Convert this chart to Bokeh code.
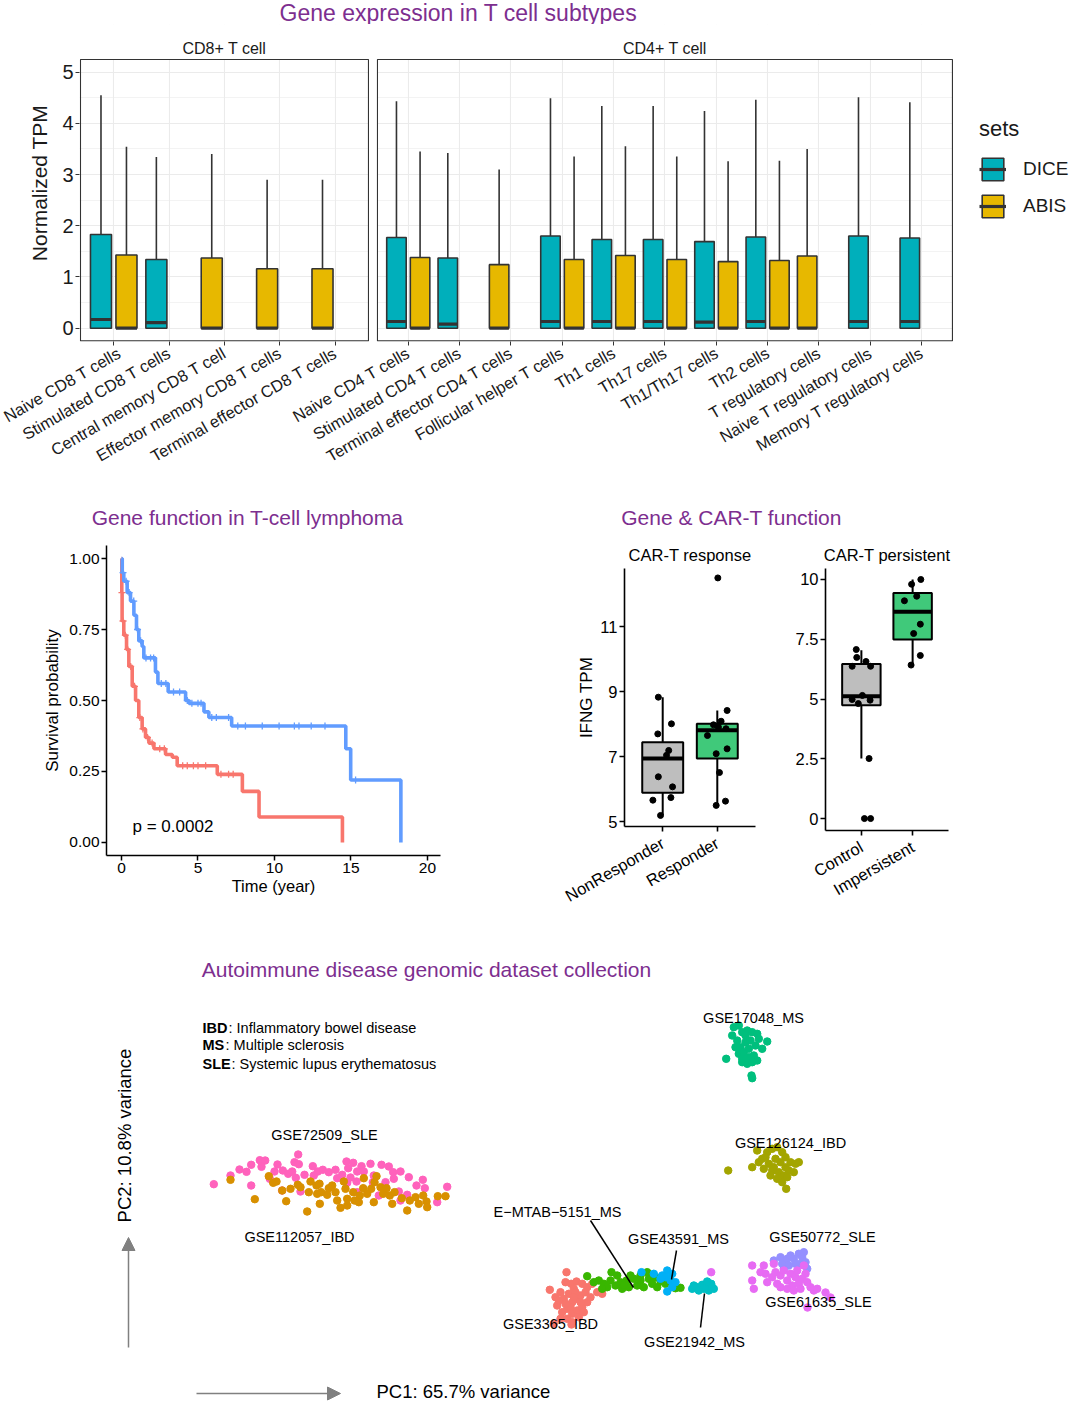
import numpy as np
from bokeh.plotting import figure
from bokeh.models import (FactorRange, Range1d, ColumnDataSource, Legend, LegendItem,
                          Arrow, NormalHead, FixedTicker, NumeralTickFormatter)
from bokeh.layouts import row
from bokeh.core.properties import value
from bokeh.embed import file_html
from bokeh.resources import INLINE

FONT = "Liberation Sans"
PURPLE = "#7D2E8F"
INK = "#1A1A1A"
DICE_COLOR = "#00AFBB"
ABIS_COLOR = "#E7B800"

# ------------------------------------------------------------------ data: top panel
cd8_cells = ["Naive CD8 T cells", "Stimulated CD8 T cells", "Central memory CD8 T cell",
             "Effector memory CD8 T cells", "Terminal effector CD8 T cells"]
cd4_cells = ["Naive CD4 T cells", "Stimulated CD4 T cells", "Terminal effector CD4 T cells",
             "Follicular helper T cells", "Th1 cells", "Th17 cells", "Th1/Th17 cells", "Th2 cells",
             "T regulatory cells", "Naive T regulatory cells", "Memory T regulatory cells"]

dice_cells = ["Naive CD8 T cells", "Stimulated CD8 T cells", "Naive CD4 T cells", "Stimulated CD4 T cells",
              "Follicular helper T cells", "Th1 cells", "Th17 cells", "Th1/Th17 cells", "Th2 cells",
              "Naive T regulatory cells", "Memory T regulatory cells"]
dice_q1 = [0.0, 0.0, 0.0, 0.0, 0.0, 0.0, 0.0, 0.0, 0.0, 0.0, 0.0]
dice_median = [0.17, 0.11, 0.13, 0.08, 0.13, 0.13, 0.13, 0.12, 0.13, 0.13, 0.13]
dice_q3 = [1.83, 1.34, 1.77, 1.37, 1.80, 1.73, 1.73, 1.69, 1.78, 1.80, 1.76]
dice_upper = [4.55, 3.34, 4.43, 3.42, 4.49, 4.34, 4.34, 4.24, 4.46, 4.51, 4.41]

abis_cells = ["Naive CD8 T cells", "Central memory CD8 T cell", "Effector memory CD8 T cells",
              "Terminal effector CD8 T cells", "Naive CD4 T cells", "Terminal effector CD4 T cells",
              "Follicular helper T cells", "Th1 cells", "Th17 cells", "Th1/Th17 cells", "Th2 cells",
              "T regulatory cells"]
abis_q1 = [0.0, 0.0, 0.0, 0.0, 0.0, 0.0, 0.0, 0.0, 0.0, 0.0, 0.0, 0.0]
abis_median = [0.0, 0.0, 0.0, 0.0, 0.0, 0.0, 0.0, 0.0, 0.0, 0.0, 0.0, 0.0]
abis_q3 = [1.43, 1.37, 1.16, 1.16, 1.38, 1.24, 1.34, 1.42, 1.34, 1.30, 1.32, 1.41]
abis_upper = [3.54, 3.40, 2.90, 2.90, 3.45, 3.10, 3.35, 3.55, 3.35, 3.26, 3.27, 3.50]

# ------------------------------------------------------------------ data: survival
times_b = [0, 0.05, 0.15, 0.37, 0.59, 0.81, 0.98, 1.13, 1.35, 1.46, 2.22, 2.38, 3.05, 4.19, 4.41,
           5.39, 5.71, 7.20, 14.66, 14.98, 18.26]
surv_b = [1.0, 0.95, 0.92, 0.88, 0.85, 0.80, 0.75, 0.71, 0.69, 0.65, 0.60, 0.56, 0.53, 0.50, 0.49,
          0.46, 0.44, 0.41, 0.33, 0.22, 0.0]
times_r = [0, 0.02, 0.04, 0.15, 0.33, 0.48, 0.70, 0.92, 1.13, 1.35, 1.57, 1.79, 2.12, 2.88, 3.32,
           3.64, 6.26, 7.90, 8.99, 14.44]
surv_r = [1.0, 0.88, 0.78, 0.73, 0.68, 0.62, 0.55, 0.50, 0.44, 0.40, 0.37, 0.35, 0.33, 0.31, 0.30,
          0.27, 0.24, 0.18, 0.09, 0.0]
cens_b = [0.1, 0.3, 0.5, 0.8, 1.05, 1.25, 1.6, 1.9, 2.1, 2.6, 2.9, 3.4, 3.8, 4.3, 4.6, 5.0, 5.2,
          5.9, 6.2, 7.0, 7.6, 8.1, 9.2, 10.3, 11.3, 11.6, 12.4, 13.3, 15.3]
cens_r = [0.03, 0.1, 0.25, 0.4, 0.6, 0.85, 1.2, 1.4, 1.7, 2.0, 2.5, 2.8, 4.0, 4.3, 4.7, 5.0, 5.5,
          6.5, 7.0, 7.3]

# ------------------------------------------------------------------ data: CAR-T
resp_groups = ["NonResponder", "Responder"]
resp_lower = [5.20, 5.51]
resp_q1 = [5.89, 6.94]
resp_median = [6.94, 7.81]
resp_q3 = [7.44, 8.01]
resp_upper = [8.83, 8.42]
nr_values = [8.83, 7.70, 8.01, 7.19, 7.04, 6.38, 6.07, 5.66, 5.74, 5.19]
nr_jitter = [-0.08, -0.09, 0.16, 0.11, 0.07, -0.08, 0.18, -0.18, 0.15, -0.04]
r_values = [12.5, 8.42, 8.09, 7.98, 7.91, 7.86, 7.65, 7.24, 7.09, 6.51, 5.50, 5.63]
r_jitter = [0.01, 0.18, 0.07, -0.07, 0.02, 0.16, -0.18, 0.18, -0.02, 0.04, -0.02, 0.15]

pers_groups = ["Control", "Impersistent"]
pers_lower = [2.51, 6.42]
pers_q1 = [4.74, 7.49]
pers_median = [5.12, 8.65]
pers_q3 = [6.46, 9.44]
pers_upper = [7.04, 10.0]
ctrl_values = [7.07, 6.74, 6.57, 6.37, 6.37, 5.15, 4.98, 4.81, 4.95, 2.51, 0.0, 0.0]
ctrl_jitter = [-0.10, -0.09, 0.09, -0.18, 0.18, 0.02, -0.18, -0.06, 0.17, 0.15, 0.06, 0.18]
imp_values = [10.0, 9.80, 9.30, 9.11, 8.13, 7.74, 6.82, 6.42]
imp_jitter = [0.16, -0.02, 0.08, -0.16, 0.15, 0.02, 0.15, -0.03]

# ------------------------------------------------------------------ data: PCA
gse72509_pc1 = [21.33, 23.0, 23.9, 24.6, 25.07, 25.93, 26.47, 26.1, 26.93, 27.7, 27.4, 28.23, 28.77, 29.17,
                29.4, 29.77, 29.83, 29.53, 30.4, 31.23, 31.73, 32.23, 32.83, 33.5, 34.6, 35.27, 34.77,
                34.17, 35.0, 36.1, 37.0, 36.33, 37.33, 38.1, 38.83, 39.27, 40.0, 40.83, 39.33, 38.5,
                37.23, 35.6, 34.67, 33.67, 25.07, 30.0, 28.17, 39.83, 40.67, 41.6, 42.23, 42.43, 43.67,
                44.67, 40.0, 35.67, 37.83, 31.33, 35.67]
gse72509_pc2 = [21.63, 22.5, 23.1, 22.87, 23.57, 24.03, 24.0, 23.37, 22.17, 23.6, 22.9, 23.0, 22.67, 22.9,
                23.83, 24.6, 23.63, 22.27, 22.57, 23.43, 22.9, 23.07, 22.83, 23.07, 23.9, 23.77, 23.23,
                22.57, 22.3, 23.43, 23.67, 22.9, 22.5, 23.57, 23.4, 22.83, 22.9, 22.33, 22.17, 21.83,
                21.83, 21.9, 21.77, 22.23, 21.5, 20.9, 21.0, 20.9, 20.57, 21.5, 22.07, 21.23, 19.83,
                21.37, 20.0, 20.83, 20.5, 22.5, 22.9]
gse112057_pc1 = [23.0, 25.43, 26.83, 27.27, 27.6, 28.17, 28.57, 29.0, 29.73, 30.67, 30.83, 31.0, 31.6,
                 31.9, 31.93, 32.07, 32.67, 32.83, 33.17, 33.5, 33.67, 34.0, 34.33, 34.5, 34.67, 35.27,
                 35.4, 35.93, 36.27, 36.33, 36.67, 37.07, 37.4, 37.6, 38.0, 38.27, 38.6, 38.93, 39.17,
                 39.4, 40.13, 40.67, 40.93, 41.5, 41.83, 42.27, 42.6, 42.67, 43.73, 44.5, 35.83, 37.33,
                 34.67, 30.0, 31.67]
gse112057_pc2 = [22.07, 20.13, 22.43, 21.77, 21.9, 21.0, 19.93, 21.17, 21.57, 18.9, 20.83, 21.9, 21.5,
                 21.67, 19.67, 20.83, 20.57, 21.23, 21.5, 20.83, 20.0, 19.27, 21.9, 21.17, 20.17, 20.83,
                 20.0, 20.5, 21.23, 22.23, 20.67, 21.17, 21.83, 22.43, 21.33, 20.67, 21.23, 20.5, 19.67,
                 20.83, 20.23, 19.0, 20.0, 20.33, 19.67, 20.5, 19.9, 19.33, 20.43, 20.43, 19.83, 19.83,
                 19.5, 21.33, 20.67]
gse17048_pc1 = [73.33, 73.83, 73.17, 73.67, 74.17, 74.67, 75.17, 75.67, 74.0, 74.5, 75.0, 75.5, 75.83,
                76.67, 73.83, 74.33, 74.83, 75.33, 75.67, 74.17, 74.67, 75.17, 72.57, 75.1, 75.17, 74.5,
                76.17, 73.5, 74.83, 74.17]
gse17048_pc2 = [37.33, 37.5, 36.5, 36.0, 36.83, 37.0, 36.83, 36.67, 35.33, 35.83, 36.0, 35.5, 36.17,
                35.9, 34.67, 34.83, 34.33, 34.5, 34.0, 33.83, 33.67, 33.83, 34.17, 32.5, 32.23, 36.5,
                35.17, 35.33, 35.17, 34.17]
gse126124_pc1 = [72.77, 75.17, 75.67, 76.17, 76.67, 77.17, 77.67, 78.17, 78.5, 79.0, 79.5, 79.83, 78.0,
                 77.5, 76.83, 76.33, 77.17, 77.83, 78.33, 78.83, 79.33, 77.67, 78.17, 78.67, 78.57, 77.0,
                 75.83, 76.5, 77.33, 78.5]
gse126124_pc2 = [23.0, 23.33, 25.0, 24.17, 24.83, 25.17, 25.33, 24.83, 24.33, 23.83, 23.67, 23.83, 23.83,
                 24.17, 23.67, 23.17, 23.0, 22.83, 22.5, 23.0, 22.83, 22.17, 21.83, 22.33, 21.17, 22.5,
                 23.83, 24.33, 23.33, 23.33]
gse3365_pc1 = [56.6, 54.93, 55.5, 56.0, 56.5, 57.07, 57.6, 58.17, 58.67, 59.17, 59.67, 60.17, 55.67, 56.17,
               56.67, 57.17, 57.67, 58.0, 58.5, 57.33, 56.83, 56.33, 55.83, 57.17, 57.67, 58.17, 58.67,
               59.0, 56.67, 57.17, 56.0, 57.83, 58.33, 57.5, 57.0, 56.5, 55.33, 57.33, 58.0, 57.1]
gse3365_pc2 = [12.83, 11.07, 10.33, 10.83, 11.83, 11.67, 11.9, 11.67, 11.33, 11.67, 10.83, 10.67, 9.5, 8.83,
               9.17, 9.83, 10.17, 10.5, 10.83, 11.17, 10.67, 10.17, 10.0, 8.67, 9.0, 9.33, 9.83, 10.33,
               8.17, 7.83, 8.17, 8.33, 8.83, 10.83, 9.33, 9.67, 7.67, 10.33, 9.83, 7.6]
emtab_pc1 = [58.67, 59.33, 59.83, 60.33, 61.1, 61.0, 61.5, 62.0, 62.17, 62.6, 62.83, 63.33, 63.67, 64.0,
             64.33, 64.67, 64.83, 65.17, 65.5, 65.67, 66.0, 66.5, 67.0, 67.5, 68.0, 61.67, 63.0, 60.67,
             60.17, 62.33, 64.0]
emtab_pc2 = [12.43, 11.83, 12.0, 11.67, 12.83, 12.0, 11.5, 11.83, 11.17, 12.0, 11.33, 12.17, 11.5, 12.0,
             11.33, 12.83, 12.17, 11.67, 12.33, 11.33, 11.9, 11.67, 12.0, 11.23, 11.27, 12.5, 12.5, 11.33,
             11.17, 11.57, 12.5]
gse43591_pc1 = [64.1, 65.33, 66.67, 67.17, 66.5, 67.0, 67.5, 66.0, 66.67, 67.17, 66.17]
gse43591_pc2 = [12.83, 12.67, 13.0, 12.67, 12.33, 12.0, 11.83, 12.17, 10.9, 11.33, 12.5]
gse21942_pc1 = [69.17, 69.67, 70.17, 70.67, 71.07, 71.33, 70.83, 70.33, 69.83, 69.33, 70.67, 71.17]
gse21942_pc2 = [11.17, 11.33, 11.57, 11.5, 11.67, 11.17, 11.0, 11.17, 11.0, 11.5, 11.9, 11.33]
gse50772_pc1 = [77.33, 78.0, 78.17, 78.67, 79.0, 79.33, 79.83, 80.17, 80.33, 80.0, 80.5, 79.5, 78.83,
                80.67, 78.33]
gse50772_pc2 = [14.0, 14.33, 13.67, 14.17, 14.5, 14.17, 14.67, 14.33, 14.83, 13.67, 13.83, 13.67, 13.5,
                13.17, 13.17]
gse61635_pc1 = [75.17, 76.33, 75.17, 75.33, 76.5, 76.67, 77.17, 77.5, 77.67, 78.0, 78.33, 78.67, 79.0,
                79.17, 79.5, 79.67, 79.83, 80.17, 80.5, 80.67, 81.0, 81.33, 81.67, 78.0, 78.67, 79.33, 80.0,
                80.33, 77.33, 76.0, 71.07, 80.7, 83.0, 82.5]
gse61635_pc2 = [13.5, 13.5, 12.0, 11.17, 12.67, 11.83, 12.33, 12.83, 11.67, 12.5, 13.0, 12.0, 12.67, 11.5,
                12.33, 13.0, 11.67, 12.17, 12.67, 11.83, 11.33, 11.0, 11.17, 11.33, 11.17, 11.0, 11.17,
                13.5, 13.67, 12.83, 12.83, 9.3, 10.3, 10.8]

dataset_names = ["GSE72509_SLE", "GSE112057_IBD", "GSE17048_MS", "GSE126124_IBD", "GSE3365_IBD",
                 "E-MTAB-5151_MS", "GSE43591_MS", "GSE21942_MS", "GSE50772_SLE", "GSE61635_SLE"]
dataset_colors = ["#FF62BC", "#D89000", "#00BF7D", "#A3A500", "#F8766D",
                  "#39B600", "#00B0F6", "#00BFC4", "#9590FF", "#E76BF3"]
dataset_pc1 = [gse72509_pc1, gse112057_pc1, gse17048_pc1, gse126124_pc1, gse3365_pc1,
               emtab_pc1, gse43591_pc1, gse21942_pc1, gse50772_pc1, gse61635_pc1]
dataset_pc2 = [gse72509_pc2, gse112057_pc2, gse17048_pc2, gse126124_pc2, gse3365_pc2,
               emtab_pc2, gse43591_pc2, gse21942_pc2, gse50772_pc2, gse61635_pc2]

label_text = ["GSE17048_MS", "GSE126124_IBD", "GSE72509_SLE", "GSE112057_IBD", "E\u2212MTAB\u22125151_MS",
              "GSE43591_MS", "GSE50772_SLE", "GSE61635_SLE", "GSE3365_IBD", "GSE21942_MS"]
label_pc1 = [75.3, 79.0, 32.4, 29.9, 55.7, 67.8, 82.2, 81.8, 55.0, 69.4]
label_pc2 = [38.3, 25.8, 26.6, 16.4, 18.9, 16.2, 16.4, 9.9, 7.7, 5.9]
link_pc1_start = [59.0, 67.6, 70.0]
link_pc2_start = [18.0, 15.0, 7.3]
link_pc1_end = [63.3, 67.1, 70.4]
link_pc2_end = [11.3, 12.1, 10.7]

W = 1074


def base_fig(**kw):
    p = figure(output_backend="svg", toolbar_location=None, **kw)
    try:
        p.frame_align = False
    except Exception:
        pass
    return p


def style_axis(ax, size, color=INK, line=None, lw=1.0, standoff=3):
    ax.major_label_text_font = FONT
    ax.major_label_text_font_size = size
    ax.major_label_text_color = color
    ax.major_label_standoff = standoff
    ax.axis_label_text_font = FONT
    ax.axis_label_text_font_style = "normal"
    ax.axis_label_text_color = color
    ax.minor_tick_line_color = None
    ax.major_tick_in = 0
    ax.major_tick_out = 4
    ax.major_tick_line_color = "#333333" if line is None else line
    ax.major_tick_line_width = lw
    if line is None:
        ax.axis_line_color = None
    else:
        ax.axis_line_color = line
        ax.axis_line_width = lw


# ------------------------------------------------------------------ title row 1
t1 = base_fig(width=W, height=24, x_range=Range1d(0, W), y_range=Range1d(0, 24),
              x_axis_type=None, y_axis_type=None, title=None, min_border=0)
t1.outline_line_color = None
t1.text(x=[458], y=[12], text=["Gene expression in T cell subtypes"], text_align="center",
        text_baseline="middle", text_font=value(FONT), text_font_size="23px", text_color=PURPLE)

# ------------------------------------------------------------------ top boxplots
P8, P4 = "CD8+ T cell", "CD4+ T cell"
S4 = 0.927                      # relative width of one CD4 category (free facet space)
GAP = 0.1625                    # blank space between the two facets
cell_labels = cd8_cells + cd4_cells
cell_pos = {c: float(i) for i, c in enumerate(cd8_cells)}
cd4_first = 4 + 0.6 + GAP + 0.6 * S4
cell_pos.update({c: cd4_first + j * S4 for j, c in enumerate(cd4_cells)})
cell_scale = {c: (1.0 if c in cd8_cells else S4) for c in cell_labels}
cd8_lo, cd8_hi = cell_pos[cd8_cells[0]] - 0.6, cell_pos[cd8_cells[-1]] + 0.6
cd4_lo, cd4_hi = cell_pos[cd4_cells[0]] - 0.6 * S4, cell_pos[cd4_cells[-1]] + 0.6 * S4

top = base_fig(width=W, height=466, x_range=Range1d(-0.618, 17.349), y_range=Range1d(-0.26, 5.929),
               title=None, min_border_left=79, min_border_right=0, min_border_top=0, min_border_bottom=149)
top.outline_line_color = None
top.xaxis.ticker = FixedTicker(ticks=[cell_pos[c] for c in cell_labels])
top.xaxis.major_label_overrides = {cell_pos[c]: c for c in cell_labels}
top.xgrid.grid_line_color = "#EBEBEB"
top.xgrid.grid_line_width = 1.1
top.yaxis.ticker = FixedTicker(ticks=[0, 1, 2, 3, 4, 5], minor_ticks=[0.5, 1.5, 2.5, 3.5, 4.5])
top.ygrid.grid_line_color = "#EBEBEB"
top.ygrid.grid_line_width = 1.1
top.ygrid.minor_grid_line_color = "#EBEBEB"
top.ygrid.minor_grid_line_width = 0.6
style_axis(top.yaxis[0], "20px", standoff=2)
style_axis(top.xaxis[0], "16.5px", standoff=6)
top.yaxis.axis_label = "Normalized TPM"
top.yaxis.axis_label_text_font_size = "21px"
top.yaxis.axis_label_standoff = 8
top.xaxis.major_label_orientation = np.pi / 6

both = set(dice_cells) & set(abis_cells)
BW = 0.38


def dodge(c, side):
    return 0.23 if (side == "ABIS" and c in both) else -0.23


renderers = {}
for side, cells, q1, med, q3, up, col in [
        ("DICE", dice_cells, dice_q1, dice_median, dice_q3, dice_upper, DICE_COLOR),
        ("ABIS", abis_cells, abis_q1, abis_median, abis_q3, abis_upper, ABIS_COLOR)]:
    xs = [cell_pos[c] + dodge(c, side) * cell_scale[c] for c in cells]
    ws = [BW * cell_scale[c] for c in cells]
    src = ColumnDataSource(dict(x=xs, w=ws, xl=[x - w / 2 for x, w in zip(xs, ws)],
                                xr=[x + w / 2 for x, w in zip(xs, ws)],
                                q1=q1, med=med, q3=q3, upper=up))
    top.segment(x0="x", y0="q3", x1="x", y1="upper", source=src, line_color="#333333", line_width=1.6)
    b = top.vbar(x="x", width="w", bottom="q1", top="q3", source=src, fill_color=col,
                 line_color="#333333", line_width=1.6)
    m = top.segment(x0="xl", y0="med", x1="xr", y1="med", source=src, line_color="#333333", line_width=3.2)
    renderers[side] = (b, m)

# white strip band, gap between facets and legend area
top.quad(left=[-2, cd8_hi, cd4_hi], right=[25, cd4_lo, 25], bottom=[5.247, -1, -1], top=[8, 8, 8],
         fill_color="white", line_color=None)
# facet borders
top.quad(left=[cd8_lo, cd4_lo], right=[cd8_hi, cd4_hi], bottom=-0.248, top=5.247,
         fill_color=None, line_color="#333333", line_width=1.1)
top.text(x=[cell_pos[cd8_cells[2]], cell_pos[cd4_cells[5]]], y=[5.46, 5.46], text=[P8, P4],
         text_align="center", text_baseline="middle", text_font=value(FONT),
         text_font_size="16px", text_color=INK)

legend = Legend(items=[LegendItem(label="DICE", renderers=list(renderers["DICE"])),
                       LegendItem(label="ABIS", renderers=list(renderers["ABIS"]))],
                title="sets", location=(900, 121), orientation="vertical")
legend.title_text_font = FONT
legend.title_text_font_size = "22px"
legend.title_text_font_style = "normal"
legend.title_text_color = INK
legend.title_standoff = 13
legend.label_text_font = FONT
legend.label_text_font_size = "19px"
legend.label_text_color = INK
legend.glyph_width = 27
legend.glyph_height = 28
legend.spacing = 9
legend.label_standoff = 17
legend.padding = 5
legend.margin = 0
legend.border_line_color = None
legend.background_fill_color = None
top.add_layout(legend)

# ------------------------------------------------------------------ title row 2
t2 = base_fig(width=W, height=40, x_range=Range1d(0, W), y_range=Range1d(0, 40),
              x_axis_type=None, y_axis_type=None, title=None, min_border=0)
t2.outline_line_color = None
t2.text(x=[247, 731], y=[13, 13], text=["Gene function in T-cell lymphoma", "Gene & CAR-T function"],
        text_align="center", text_baseline="middle", text_font=value(FONT), text_font_size="21px",
        text_color=PURPLE)

# ------------------------------------------------------------------ survival
surv = base_fig(width=560, height=385, x_range=Range1d(-0.98, 20.85), y_range=Range1d(-0.0458, 1.0458),
                title=None, min_border_left=106, min_border_right=120, min_border_top=15,
                min_border_bottom=60)
surv.grid.grid_line_color = None
surv.outline_line_color = None
for ax in (surv.xaxis[0], surv.yaxis[0]):
    style_axis(ax, "15.5px", color="black", line="black", lw=1.5, standoff=2)
    ax.major_tick_out = 5
surv.xaxis.ticker = FixedTicker(ticks=[0, 5, 10, 15, 20])
surv.yaxis.ticker = FixedTicker(ticks=[0, 0.25, 0.5, 0.75, 1.0])
surv.yaxis.formatter = NumeralTickFormatter(format="0.00")
surv.xaxis.axis_label = "Time (year)"
surv.xaxis.axis_label_text_font_size = "16.5px"
surv.xaxis.axis_label_standoff = 1
surv.yaxis.axis_label = "Survival probability"
surv.yaxis.axis_label_text_font_size = "17px"
surv.yaxis.axis_label_standoff = 4


def step_value(times, vals, t):
    idx = max(i for i, tt in enumerate(times) if tt <= t)
    return vals[idx]


surv.step(x=times_r, y=surv_r, mode="after", line_color="#F8766D", line_width=3.6)
surv.step(x=times_b, y=surv_b, mode="after", line_color="#619CFF", line_width=3.6)
surv.scatter(x=cens_r, y=[step_value(times_r, surv_r, t) for t in cens_r], marker="cross", size=7,
             line_color="#F8766D", line_width=1.3)
surv.scatter(x=cens_b, y=[step_value(times_b, surv_b, t) for t in cens_b], marker="cross", size=7,
             line_color="#619CFF", line_width=1.3)
surv.text(x=[0.72], y=[0.058], text=["p = 0.0002"], text_align="left", text_baseline="middle",
          text_font=value(FONT), text_font_size="17px", text_color="black")


# ------------------------------------------------------------------ CAR-T panels
def cart(title, groups, yr, width, bl, br, lower, q1, med, q3, upper, colors, pts, ylabel=None):
    p = base_fig(width=width, height=385,
                 x_range=FactorRange(factors=groups, range_padding=0.2, range_padding_units="absolute"),
                 y_range=Range1d(*yr), title=title, min_border_left=bl, min_border_right=br,
                 min_border_top=38, min_border_bottom=85)
    p.title.align = "center"
    p.title.text_font = FONT
    p.title.text_font_size = "16.5px"
    p.title.text_font_style = "normal"
    p.title.text_color = "black"
    p.title.standoff = 10
    p.grid.grid_line_color = None
    p.outline_line_color = None
    for ax in (p.xaxis[0], p.yaxis[0]):
        style_axis(ax, "16.5px", color="black", line="black", lw=1.6, standoff=2)
        ax.major_tick_out = 5
    p.xaxis.major_label_standoff = 10
    p.xaxis.major_label_orientation = np.pi / 6
    if ylabel:
        p.yaxis.axis_label = ylabel
        p.yaxis.axis_label_text_font_size = "17px"
        p.yaxis.axis_label_standoff = 1
    src = ColumnDataSource(dict(
        x=groups, xl=[(g, -0.375) for g in groups], xr=[(g, 0.375) for g in groups],
        lower=lower, q1=q1, med=med, q3=q3, upper=upper, color=colors))
    p.segment(x0="x", y0="q3", x1="x", y1="upper", source=src, line_color="black", line_width=2)
    p.segment(x0="x", y0="lower", x1="x", y1="q1", source=src, line_color="black", line_width=2)
    p.vbar(x="x", width=0.75, bottom="q1", top="q3", source=src, fill_color="color",
           line_color="black", line_width=2)
    p.segment(x0="xl", y0="med", x1="xr", y1="med", source=src, line_color="black", line_width=4)
    for g, vals, jit in pts:
        p.scatter(x=[(g, j) for j in jit], y=vals, size=6, color="black")
    return p


c1 = cart("CAR-T response", resp_groups, (4.85, 12.79), 230, 64, 35, resp_lower, resp_q1, resp_median,
          resp_q3, resp_upper, ["#BEBEBE", "#40C97A"],
          [("NonResponder", nr_values, nr_jitter), ("Responder", r_values, r_jitter)], ylabel="IFNG TPM")
c1.yaxis.ticker = FixedTicker(ticks=[5, 7, 9, 11])
c2 = cart("CAR-T persistent", pers_groups, (-0.50, 10.46), 284, 35, 126, pers_lower, pers_q1, pers_median,
          pers_q3, pers_upper, ["#BEBEBE", "#40C97A"],
          [("Control", ctrl_values, ctrl_jitter), ("Impersistent", imp_values, imp_jitter)])
c2.yaxis.ticker = FixedTicker(ticks=[0, 2.5, 5, 7.5, 10])
c2.yaxis.major_label_overrides = {0: "0", 2.5: "2.5", 5: "5", 7.5: "7.5", 10: "10"}

# ------------------------------------------------------------------ PCA
pca = base_fig(width=W, height=493, x_range=Range1d(0, 107.4), y_range=Range1d(-0.8, 48.5),
               x_axis_type=None, y_axis_type=None, title=None, min_border=0)
pca.outline_line_color = None
pca.text(x=[42.6], y=[43.1], text=["Autoimmune disease genomic dataset collection"], text_align="center",
         text_baseline="middle", text_font=value(FONT), text_font_size="21px", text_color=PURPLE)
pca.text(x=[20.2, 20.2, 20.2], y=[37.3, 35.6, 33.7], text=["IBD", "MS", "SLE"], text_align="left",
         text_baseline="middle", text_font=value(FONT), text_font_size="14.5px", text_font_style="bold",
         text_color="black")
pca.text(x=[22.8, 22.5, 23.1], y=[37.3, 35.6, 33.7],
         text=[": Inflammatory bowel disease", ": Multiple sclerosis", ": Systemic lupus erythematosus"],
         text_align="left", text_baseline="middle", text_font=value(FONT), text_font_size="14.5px",
         text_color="black")
for name, col, xs, ys in zip(dataset_names, dataset_colors, dataset_pc1, dataset_pc2):
    pca.scatter(x=xs, y=ys, size=7.5, color=col)
pca.segment(x0=link_pc1_start, y0=link_pc2_start, x1=link_pc1_end, y1=link_pc2_end,
            line_color="black", line_width=1.5)
pca.text(x=label_pc1, y=label_pc2, text=label_text, text_align="center", text_baseline="middle",
         text_font=value(FONT), text_font_size="14.5px", text_color="black")
head_v = NormalHead(size=13, fill_color="#808080", line_color="#808080")
head_h = NormalHead(size=13, fill_color="#808080", line_color="#808080")
pca.add_layout(Arrow(end=head_v, x_start=12.8, y_start=5.3, x_end=12.8, y_end=16.3,
                     line_color="#808080", line_width=1.5))
pca.add_layout(Arrow(end=head_h, x_start=19.6, y_start=0.7, x_end=34.0, y_end=0.7,
                     line_color="#808080", line_width=1.5))
pca.text(x=[12.4], y=[26.5], text=["PC2: 10.8% variance"], angle=np.pi / 2, text_align="center",
         text_baseline="middle", text_font=value(FONT), text_font_size="18.5px", text_color="black")
pca.text(x=[37.6], y=[0.9], text=["PC1: 65.7% variance"], text_align="left", text_baseline="middle",
         text_font=value(FONT), text_font_size="18.5px", text_color="black")

mid = row(surv, c1, c2)
roots = [t1, top, t2, mid, pca]
open("out.html", "w").write(file_html(roots, INLINE))
